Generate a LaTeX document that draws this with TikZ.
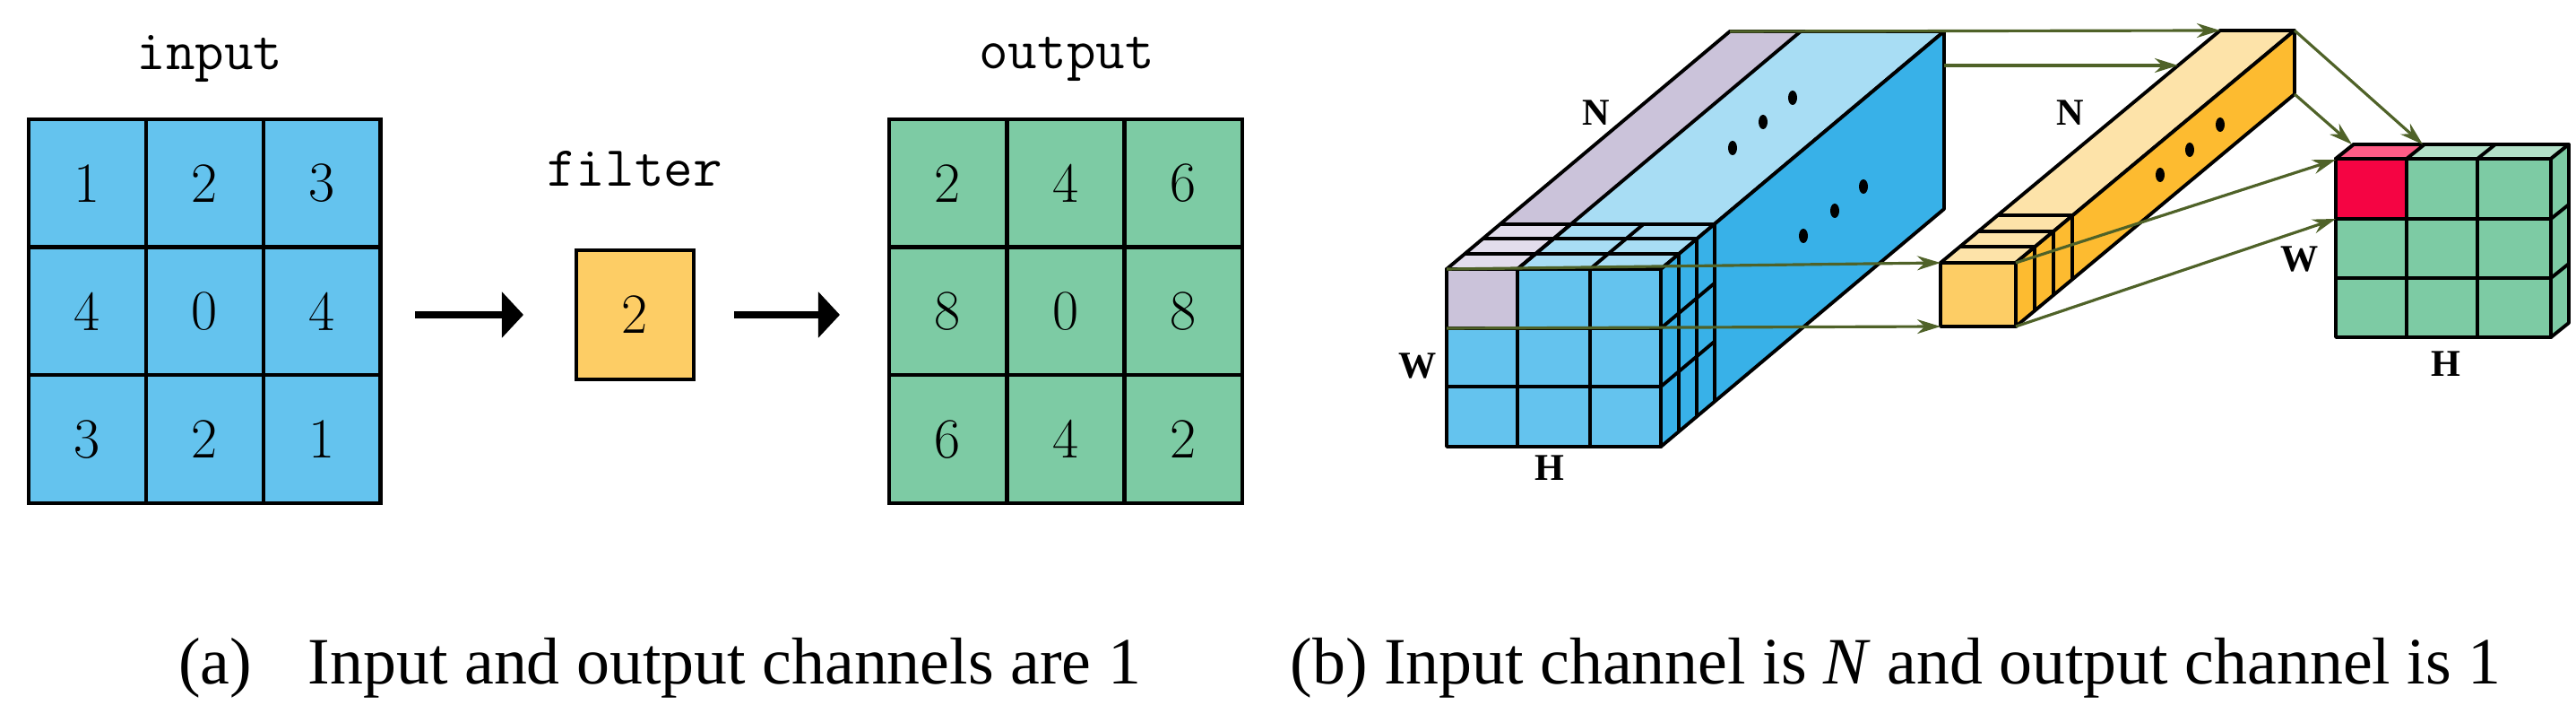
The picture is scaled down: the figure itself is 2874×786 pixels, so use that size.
\documentclass[tikz,border=0pt]{standalone}
\usepackage{fontspec}
\newfontfamily\capfont{Liberation Serif}
\usetikzlibrary{arrows.meta,shapes.geometric}
\definecolor{cblue}{HTML}{64C3EE}
\definecolor{cgreen}{HTML}{7DCBA4}
\definecolor{corange}{HTML}{FDCD65}
\definecolor{lav}{HTML}{CBC3DA}
\definecolor{lavl}{HTML}{E2DDEC}
\definecolor{lblue}{HTML}{A8DDF4}
\definecolor{sblue}{HTML}{38B1E8}
\definecolor{otop}{HTML}{FDE3A9}
\definecolor{oside}{HTML}{FDBB30}
\definecolor{gtop}{HTML}{B3E0C8}
\definecolor{rtop}{HTML}{FF5C86}
\definecolor{red1}{HTML}{F50443}
\definecolor{olive}{HTML}{4F6228}
\tikzset{
  cell/.style={draw=black, line width=1.2pt, minimum width=1.31cm, minimum height=1.43cm, inner sep=0pt, font=\fontsize{18}{20}\selectfont},
  bl/.style={draw=black, line width=1.1pt, line join=round},
  lbl/.style={font=\fontsize{18}{20}\selectfont\ttfamily},
  dim/.style={font=\capfont\bfseries\fontsize{12}{14}\selectfont},
  captxt/.style={font=\capfont\fontsize{21}{24}\selectfont},
  bigarr/.style={line width=2.3pt, -{Triangle[length=0.24cm,width=0.5cm]}},
  oarr/.style={draw=olive, line width=0.9pt, -{Stealth[length=0.26cm,width=0.16cm]}},
  dot/.style={fill=black, ellipse, minimum width=0.1cm, minimum height=0.16cm, inner sep=0pt}
}
\begin{document}
\begin{tikzpicture}[x=0.01cm,y=-0.01cm]
\useasboundingbox (0,0) rectangle (2874,786);
% ---------- (a) ----------
\foreach \r/\a/\b/\c [count=\i] in {0/1/2/3,1/4/0/4,2/3/2/1}{
  \node[cell,fill=cblue] (in\i1) at (97.5,{204.3+142.7*\r}) {\a};
  \node[cell,fill=cblue] (in\i2) at (228.5,{204.3+142.7*\r}) {\b};
  \node[cell,fill=cblue] (in\i3) at (359.5,{204.3+142.7*\r}) {\c};
}
\draw[line width=1.3pt] (32,133) rectangle (424,561);
\node[lbl] (inlbl) at (234,66) {input};
\node[cell,fill=corange,minimum width=1.31cm,minimum height=1.44cm] (filt) at (708.5,351) {2};
\node[lbl] (filtlbl) at (708,188) {filter};
\foreach \r/\a/\b/\c [count=\i] in {0/2/4/6,1/8/0/8,2/6/4/2}{
  \node[cell,fill=cgreen] (out\i1) at (1057.5,{204.3+142.7*\r}) {\a};
  \node[cell,fill=cgreen] (out\i2) at (1189,{204.3+142.7*\r}) {\b};
  \node[cell,fill=cgreen] (out\i3) at (1320.5,{204.3+142.7*\r}) {\c};
}
\draw[line width=1.3pt] (992,133) rectangle (1386,561);
\node[lbl] (outlbl) at (1190,66) {output};
\coordinate (a1s) at (463,351); \coordinate (a1e) at (584,351);
\coordinate (a2s) at (819,351); \coordinate (a2e) at (937,351);
\draw[bigarr] (a1s) -- (a1e);
\draw[bigarr] (a2s) -- (a2e);
\node[captxt] (capa) at (736,745) {(a)\hspace{0.6em} Input and output channels are 1};
% ---------- (b) big block ----------
\fill[lblue] (1614,300) -- (1853,300) -- (2169,35) -- (1930,35) -- cycle;
\fill[lav] (1614,300) -- (1693,300) -- (2009,35) -- (1930,35) -- cycle;
\fill[lavl] (1614,300) -- (1693,300) -- (1753,249.6) -- (1674,249.6) -- cycle;
\draw[bl] (1614,300) -- (1930,35) -- (2169,35) -- (1853,300);
\draw[bl] (1693,300) -- (2009,35);
\filldraw[fill=sblue,bl] (1853,300) -- (2169,35) -- (2169,233) -- (1853,498) -- cycle;
\filldraw[fill=cblue,bl] (1614,300) rectangle (1853,498);
\filldraw[fill=lav,bl] (1614,300) rectangle (1693,366);
\draw[bl] (1693,300) -- (1693,498) (1774,300) -- (1774,498)
          (1614,366) -- (1853,366) (1614,431) -- (1853,431);
\foreach \k in {1,2,3}{
  \draw[bl] ({1614+20*\k},{300-16.8*\k}) -- ({1853+20*\k},{300-16.8*\k}) -- ({1853+20*\k},{498-16.8*\k});
}
\draw[bl] (1774,300) -- (1834,249.6);
\draw[bl] (1693,300) -- (1753,249.6);
\draw[bl] (1853,366) -- (1913,315.6) (1853,431) -- (1913,380.6);
\node[dot] (d1) at (2000,109) {}; \node[dot] (d2) at (1967,136) {}; \node[dot] (d3) at (1933,165) {};
\node[dot] (d4) at (2079,208) {}; \node[dot] (d5) at (2047,235) {}; \node[dot] (d6) at (2012,263) {};
\node[dim] (N1) at (1781,126) {N};
\node[dim] (W1) at (1582,408) {W};
\node[dim] (H1) at (1729,522) {H};
% ---------- orange column ----------
\filldraw[fill=otop,bl] (2165,293) -- (2477,34) -- (2560,34) -- (2249,293) -- cycle;
\filldraw[fill=oside,bl] (2249,293) -- (2560,34) -- (2560,105) -- (2249,364) -- cycle;
\filldraw[fill=corange,bl] (2165,293) rectangle (2249,364);
\foreach \k in {1,2,3}{
  \draw[bl] ({2165+21*\k},{293-17.6*\k}) -- ({2249+21*\k},{293-17.6*\k}) -- ({2249+21*\k},{364-17.6*\k});
}
\node[dot] (e1) at (2477,139) {}; \node[dot] (e2) at (2443,167) {}; \node[dot] (e3) at (2410,195) {};
\node[dim] (N2) at (2310,126) {N};
% ---------- green output ----------
\filldraw[fill=gtop,bl] (2606,177) -- (2626,161) -- (2866,161) -- (2846,177) -- cycle;
\filldraw[fill=rtop,bl] (2606,177) -- (2626,161) -- (2705,161) -- (2685,177) -- cycle;
\draw[bl] (2764,177) -- (2784,161);
\filldraw[fill=cgreen,bl] (2846,177) -- (2866,161) -- (2866,360) -- (2846,376) -- cycle;
\draw[bl] (2846,244) -- (2866,228) (2846,310) -- (2866,294);
\filldraw[fill=cgreen,bl] (2606,177) rectangle (2846,376);
\filldraw[fill=red1,bl] (2606,177) rectangle (2685,244);
\draw[bl] (2685,177) -- (2685,376) (2764,177) -- (2764,376)
          (2606,244) -- (2846,244) (2606,310) -- (2846,310);
\node[dim] (W3) at (2566,289) {W};
\node[dim] (H3) at (2729,406) {H};
% ---------- olive arrows ----------
\coordinate (p1) at (1930,35);  \coordinate (q1) at (2477,34);
\coordinate (p2) at (2169,73);  \coordinate (q2) at (2430,73);
\coordinate (p3) at (1614,300); \coordinate (q3) at (2165,293);
\coordinate (p4) at (1614,366); \coordinate (q4) at (2165,364);
\coordinate (p5) at (2560,34);  \coordinate (q5) at (2703,161);
\coordinate (p6) at (2560,105); \coordinate (q6) at (2624,161);
\coordinate (p7) at (2249,293); \coordinate (q7) at (2606,178);
\coordinate (p8) at (2249,364); \coordinate (q8) at (2606,244);
\foreach \i in {1,...,8}{ \draw[oarr] (p\i) -- (q\i); }
\node[captxt] (capb) at (2115,745) {(b) Input channel is \textit{N} and output channel is 1};
\end{tikzpicture}
\end{document}
